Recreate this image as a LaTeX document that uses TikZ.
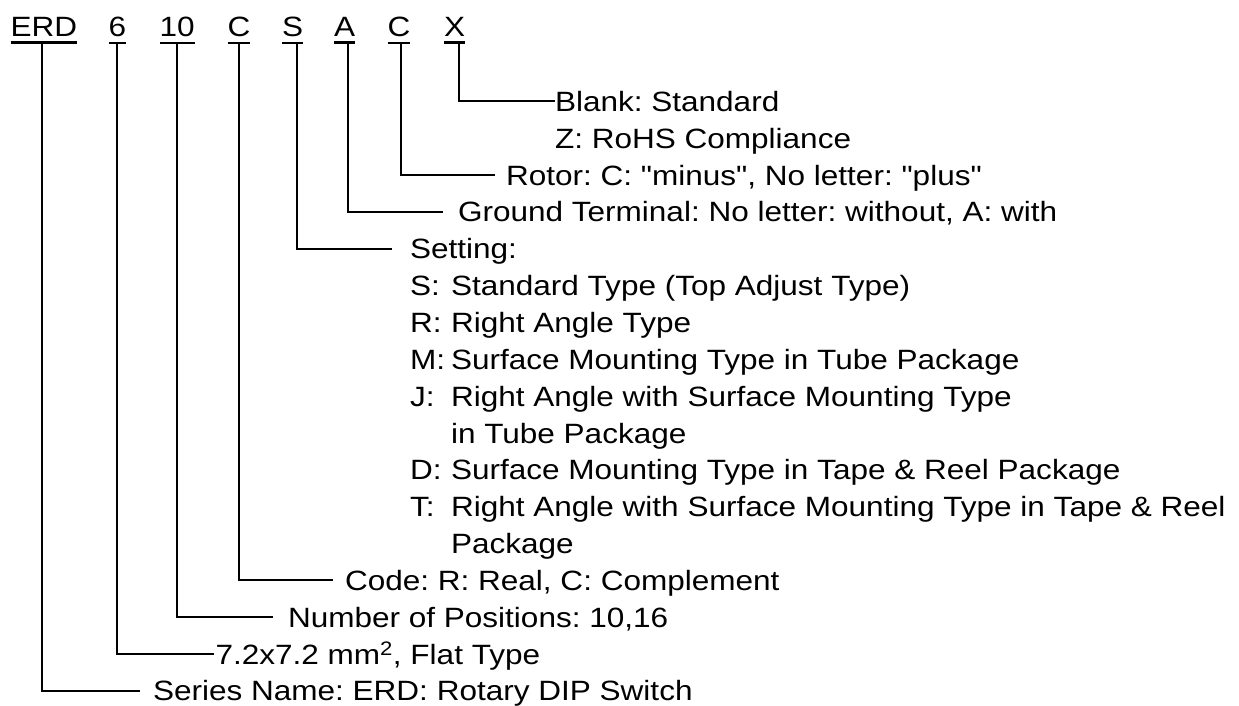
\documentclass[tikz,border=0pt]{standalone}
\usepackage{fontspec}
\newfontfamily\diagfont{Liberation Sans}[FakeStretch=1.13]
\frenchspacing
\begin{document}
\begin{tikzpicture}[x=1pt,y=-1pt,
  txt/.style={anchor=base west,inner sep=0pt,outer sep=0pt,font=\diagfont\fontsize{27.9pt}{36.9pt}\selectfont},
  codelab/.style={txt},
  uline/.style={line width=2.4pt},
  conn/.style={line width=2pt}]
\useasboundingbox (0,0) rectangle (1239,706);

% code letters
\node[codelab] (lERD) at (10.5,36.7) {ERD};
\node[codelab] (lSix) at (108.5,36.7) {6};
\node[codelab] (lTen) at (159.5,36.7) {10};
\node[codelab] (lCa)  at (227.5,36.7) {C};
\node[codelab] (lS)   at (282,36.7) {S};
\node[codelab] (lA)   at (334,36.7) {A};
\node[codelab] (lCb)  at (387.5,36.7) {C};
\node[codelab] (lX)   at (444,36.7) {X};
\foreach \n in {lERD,lSix,lTen,lCa,lS,lA,lCb,lX}
  \draw[uline] ([yshift=-6pt]\n.south west) -- ([yshift=-6pt]\n.south east);

% descriptions
\node[txt] (tBlank) at (555,111.3) {Blank: Standard};
\node[txt] (tZ)     at (555,148.2) {Z: RoHS Compliance};
\node[txt] (tRotor) at (506,185.0) {Rotor: C: "minus", No letter: "plus"};
\node[txt] (tGround) at (458,221.9) {Ground Terminal: No letter: without, A: with};
\node[txt] (tSetting) at (410,258.7) {Setting:};
\node[txt] (kS) at (410,295.6) {S:};
\node[txt] (vS) at (451,295.6) {Standard Type (Top Adjust Type)};
\node[txt] (kR) at (410,332.4) {R:};
\node[txt] (vR) at (451,332.4) {Right Angle Type};
\node[txt] (kM) at (410,369.3) {M:};
\node[txt] (vM) at (451,369.3) {Surface Mounting Type in Tube Package};
\node[txt] (kJ) at (410,406.1) {J:};
\node[txt] (vJ) at (451,406.1) {Right Angle with Surface Mounting Type};
\node[txt] (vJb) at (451,443.0) {in Tube Package};
\node[txt] (kD) at (410,479.8) {D:};
\node[txt] (vD) at (451,479.8) {Surface Mounting Type in Tape \& Reel Package};
\node[txt] (kT) at (410,516.7) {T:};
\node[txt] (vT) at (451,516.7) {Right Angle with Surface Mounting Type in Tape \& Reel};
\node[txt] (vTb) at (451,553.5) {Package};
\node[txt] (tCode) at (345,590.4) {Code: R: Real, C: Complement};
\node[txt] (tNum) at (288,627.2) {Number of Positions: 10,16};
\node[txt] (tSize) at (215.5,664.1) {7.2x7.2 mm\textsuperscript{2}, Flat Type};
\node[txt] (tSeries) at (153,700.9) {Series Name: ERD: Rotary DIP Switch};

% connectors
\draw[conn] ([xshift=4.5pt,yshift=-6pt]lX.south) |- ([yshift=10pt]tBlank.base west);
\draw[conn] ([xshift=2pt,yshift=-6pt]lCb.south) |- ([xshift=-11pt,yshift=10pt]tRotor.base west);
\draw[conn] ([xshift=3.5pt,yshift=-6pt]lA.south) |- ([xshift=-15pt,yshift=10pt]tGround.base west);
\draw[conn] ([xshift=4.5pt,yshift=-6pt]lS.south) |- ([xshift=-18pt,yshift=10pt]tSetting.base west);
\draw[conn] ([yshift=-6pt]lCa.south) |- ([xshift=-12pt,yshift=10pt]tCode.base west);
\draw[conn] ([yshift=-6pt]lTen.south) |- ([xshift=-15pt,yshift=10pt]tNum.base west);
\draw[conn] ([yshift=-6pt]lSix.south) |- ([xshift=-2pt,yshift=10pt]tSize.base west);
\draw[conn] ([xshift=-1.75pt,yshift=-6pt]lERD.south) |- ([xshift=-13pt,yshift=10pt]tSeries.base west);
\end{tikzpicture}
\end{document}
